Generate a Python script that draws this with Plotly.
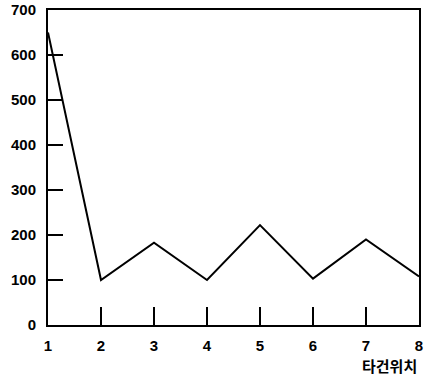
import plotly.graph_objects as go

positions = [1, 2, 3, 4, 5, 6, 7, 8]
values = [650, 100, 183, 100, 222, 103, 190, 108]
x_ticks = [1, 2, 3, 4, 5, 6, 7, 8]
y_ticks = [0, 100, 200, 300, 400, 500, 600, 700]
x_title = "타건위치"

fig = go.Figure()
fig.add_trace(go.Scatter(x=positions, y=values, mode="lines",
                         line=dict(color="black", width=2), showlegend=False,
                         hoverinfo="skip"))

font_main = "Liberation Sans, Arial, sans-serif"
fig.update_layout(
    width=424, height=379,
    margin=dict(l=48, r=5, t=10, b=54),
    paper_bgcolor="white", plot_bgcolor="white",
    font=dict(family=font_main, size=15, color="black"),
)
fig.update_xaxes(range=[1, 8], tickvals=x_ticks, ticktext=[f"<b>{v}</b>" for v in x_ticks],
                 ticks="inside", ticklen=18, tickwidth=2, tickcolor="black",
                 showline=True, linecolor="black", linewidth=2, mirror=True,
                 showgrid=False, zeroline=False, ticklabelstandoff=6, automargin=False,
                 ticklabeloverflow="allow")
fig.update_yaxes(range=[0, 700], tickvals=y_ticks, ticktext=[f"<b>{v}</b>" for v in y_ticks],
                 ticks="inside", ticklen=15, tickwidth=2, tickcolor="black",
                 showline=True, linecolor="black", linewidth=2, mirror=True,
                 showgrid=False, zeroline=False, ticklabelstandoff=7, automargin=False,
                 ticklabeloverflow="allow")
fig.add_annotation(text=f"<b>{x_title}</b>", xref="paper", yref="paper", x=1.0, y=-0.09,
                   xanchor="right", yanchor="top", showarrow=False,
                   font=dict(family="Noto Sans CJK KR, sans-serif", size=15, color="black"))
fig.write_html("out.html", post_script="document.body.style.margin='0';",
               config={"displayModeBar": False})
